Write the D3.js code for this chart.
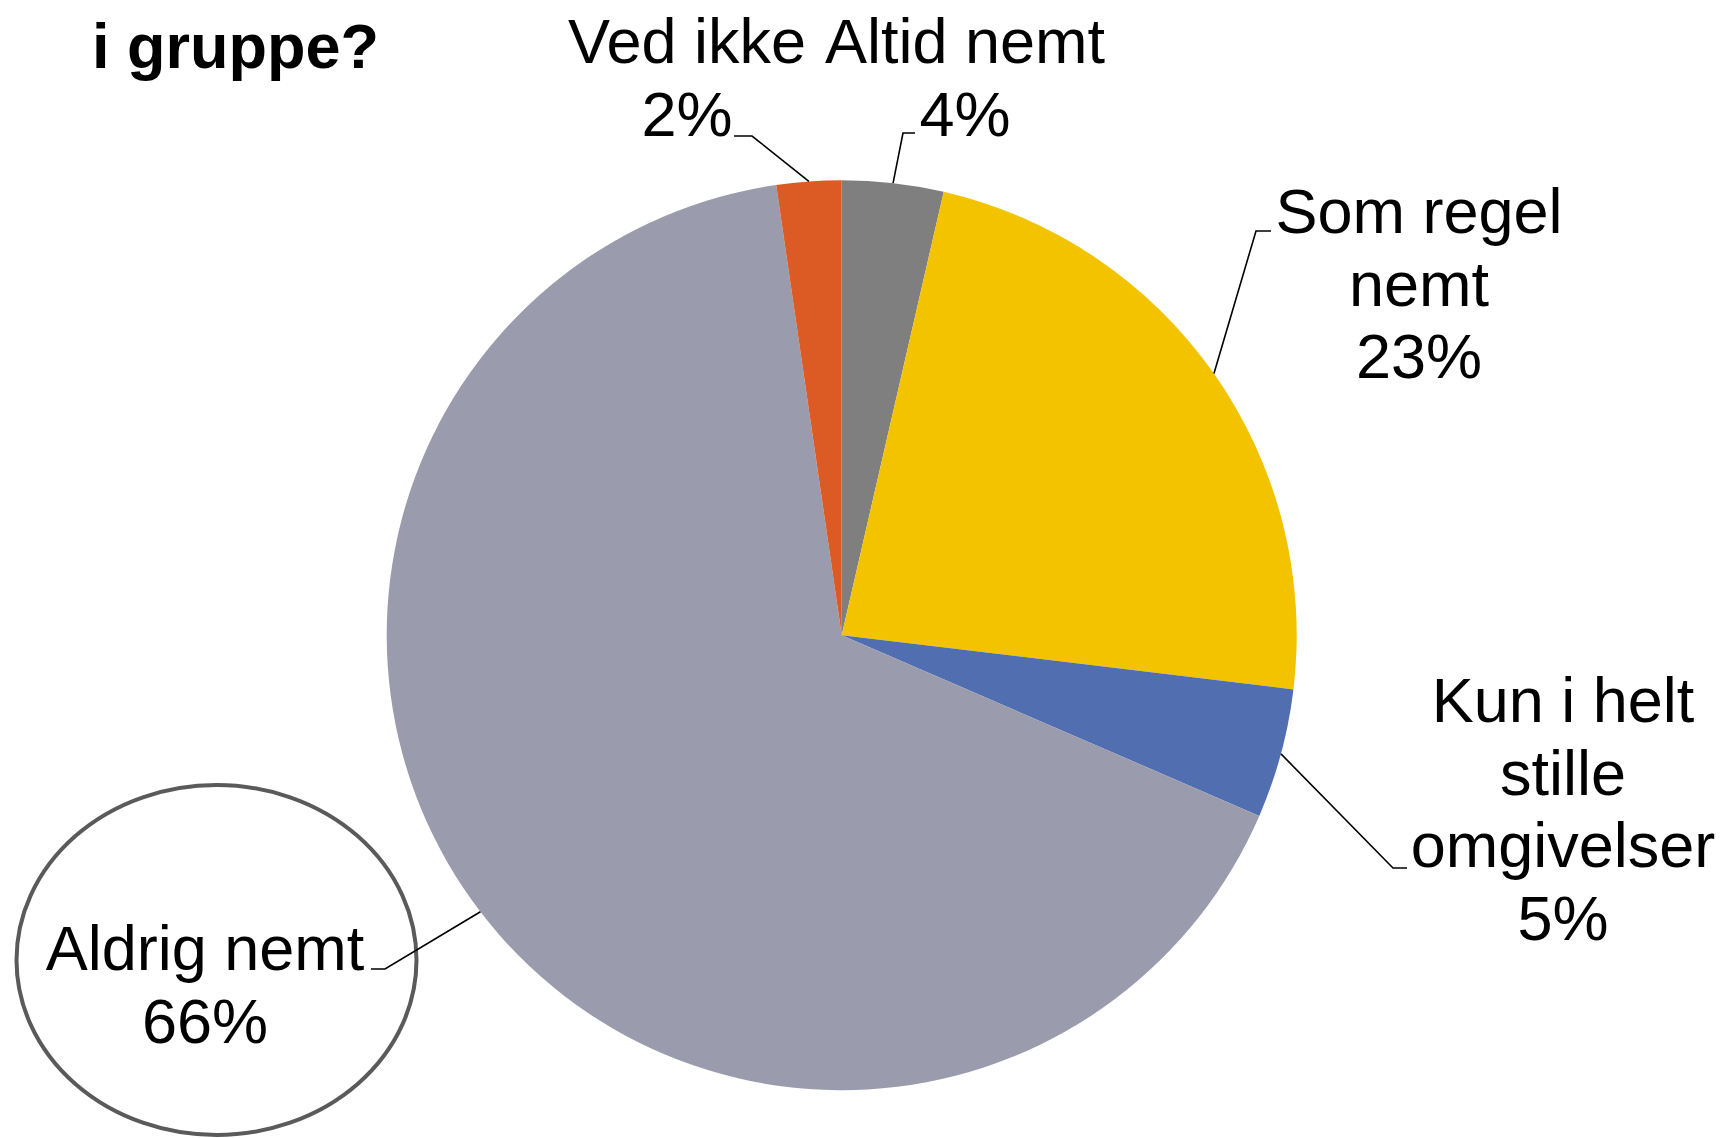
<!DOCTYPE html>
<html>
<head>
<meta charset="utf-8">
<script src="https://cdn.jsdelivr.net/npm/d3@7"></script>
<style>
  html, body { margin: 0; padding: 0; background: #fff; }
  svg { display: block; font-family: "Liberation Sans", Arial, sans-serif; }
</style>
</head>
<body>
<div id="chart"></div>
<script>
// data (clockwise from 12 o'clock)
var categories = ["Altid nemt", "Som regel nemt", "Kun i helt stille omgivelser", "Aldrig nemt", "Ved ikke"];
var labelLines = [["Altid nemt"], ["Som regel", "nemt"], ["Kun i helt", "stille", "omgivelser"], ["Aldrig nemt"], ["Ved ikke"]];
var values = [3.6, 23.3, 4.6, 66.2, 2.3];
var colors = ["#7f7f7f", "#f4c300", "#516eb1", "#9a9bac", "#dc5a24"];
var titleLines = ["i gruppe?"];

// label layout: text centre, first baseline, elbow of the leader, end of the leader
var labelLayout = [
  { x: 965,  y: 63,  elbow: [903, 133],  end: 915 },
  { x: 1419, y: 233, elbow: [1256, 231], end: 1271 },
  { x: 1563, y: 722, elbow: [1393, 868], end: 1407 },
  { x: 205,  y: 970, elbow: [385, 969],  end: 371 },
  { x: 687,  y: 63,  elbow: [752, 136],  end: 734 }
];

var width = 1723, height = 1138;
var cx = 841.7, cy = 635.2, radius = 455;
var fontSize = 63, lineHeight = 72.5;

var svg = d3.select("#chart").append("svg")
    .attr("width", width)
    .attr("height", height);

// title (first line is cut off in the original)
svg.append("text")
    .attr("x", 92)
    .attr("y", 68)
    .attr("font-size", fontSize)
    .attr("font-weight", "bold")
    .attr("fill", "#000")
    .text(titleLines[0]);

var total = d3.sum(values);
var pct = d3.format(".0%");

var pie = d3.pie().sort(null).value(function(d) { return d; });
var arc = d3.arc().innerRadius(0).outerRadius(radius);

var arcs = pie(values);

var g = svg.append("g")
    .attr("transform", "translate(" + cx + "," + cy + ")");

g.selectAll("path")
  .data(arcs)
  .enter()
  .append("path")
    .attr("d", arc)
    .attr("fill", function(d, i) { return colors[i]; });

// highlight ellipse round "Aldrig nemt"
svg.append("ellipse")
    .attr("cx", 216.5)
    .attr("cy", 960)
    .attr("rx", 200)
    .attr("ry", 175)
    .attr("fill", "#fff")
    .attr("stroke", "#5a5a5a")
    .attr("stroke-width", 4);

// leader lines: from the slice edge at its mid angle to the elbow, then across
arcs.forEach(function(d, i) {
  var a = (d.startAngle + d.endAngle) / 2;
  var px = cx + radius * Math.sin(a);
  var py = cy - radius * Math.cos(a);
  var L = labelLayout[i];
  svg.append("polyline")
    .attr("points", [[px, py], L.elbow, [L.end, L.elbow[1]]].map(function(p) { return p.join(","); }).join(" "))
    .attr("fill", "none")
    .attr("stroke", "#000")
    .attr("stroke-width", 1.6);
});

// labels
arcs.forEach(function(d, i) {
  var L = labelLayout[i];
  var lines = labelLines[i].concat([pct(values[i] / total)]);
  var t = svg.append("text")
    .attr("text-anchor", "middle")
    .attr("font-size", fontSize)
    .attr("fill", "#000");
  lines.forEach(function(s, j) {
    t.append("tspan")
      .attr("x", L.x)
      .attr("y", L.y + j * lineHeight)
      .text(s);
  });
});
</script>
</body>
</html>
